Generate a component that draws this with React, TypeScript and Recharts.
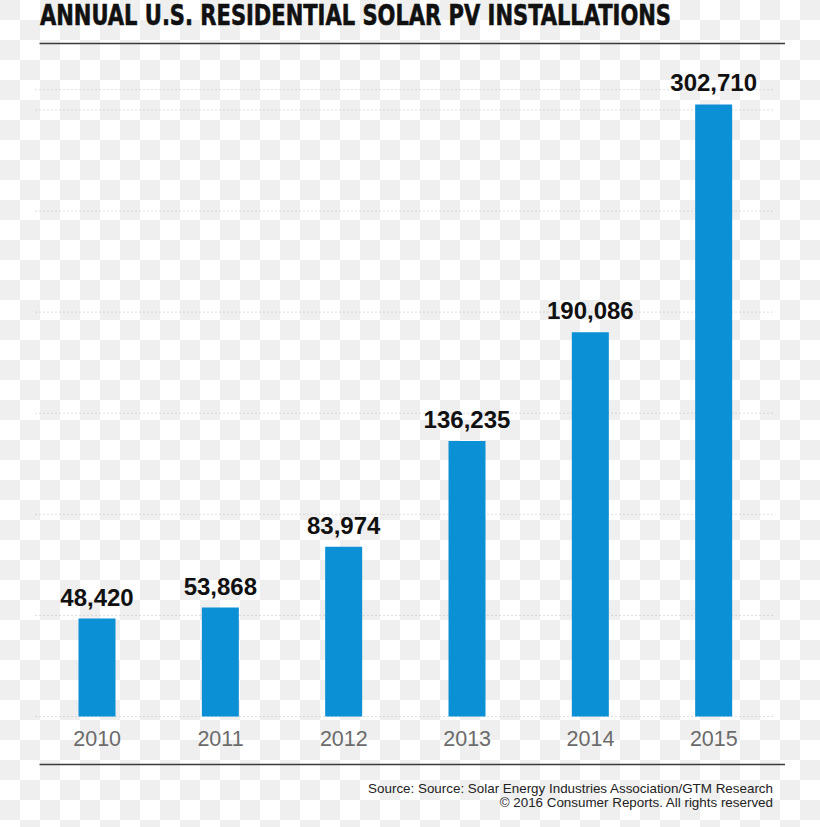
import React from "react";
import { BarChart, Bar, XAxis, YAxis, CartesianGrid, LabelList } from "recharts";

const years = ["2010", "2011", "2012", "2013", "2014", "2015"];
const installations = [48420, 53868, 83974, 136235, 190086, 302710];
const yTicks = [0, 50000, 100000, 150000, 200000, 250000, 300000];
const titleText = "ANNUAL U.S. RESIDENTIAL SOLAR PV INSTALLATIONS";
const sourceLines = [
  "Source: Source: Solar Energy Industries Association/GTM Research",
  "\u00A9 2016 Consumer Reports. All rights reserved",
];

const data = years.map((y, i) => ({ year: y, value: installations[i] }));

const fmt = (v: any) => Number(v).toLocaleString("en-US");

export default function App() {
  return (
    <div
      style={{
        position: "absolute",
        left: 0,
        top: 0,
        width: 820,
        height: 827,
        overflow: "hidden",
        backgroundColor: "#ffffff",
        backgroundImage: "repeating-conic-gradient(#ffffff 0 25%, #efefef 0 50%)",
        backgroundSize: "40px 40px",
      }}
    >
      <svg
        width={820}
        height={827}
        style={{ position: "absolute", left: 0, top: 0 }}
      >
        <text
          x={40}
          y={25}
          textLength={631}
          lengthAdjust="spacingAndGlyphs"
          stroke="#111"
          strokeWidth={0.6}
          style={{
            fontFamily: "'Liberation Sans Narrow', 'DejaVu Sans Condensed', Arial, sans-serif",
            fontWeight: 700,
            fontSize: 28.5,
            fill: "#111",
          }}
        >
          {titleText}
        </text>
        <line x1={39.5} x2={785} y1={43.5} y2={43.5} stroke="#3a3a3a" strokeWidth={1.5} />
        <line x1={39.5} x2={785} y1={764.5} y2={764.5} stroke="#3a3a3a" strokeWidth={1.5} />
        {sourceLines.map((s, i) => (
          <text
            key={i}
            x={773}
            y={792.7 + i * 14}
            textAnchor="end"
            style={{
              fontFamily: "'Liberation Sans', Arial, sans-serif",
              fontSize: 13.4,
              fill: "#222",
            }}
          >
            {s}
          </text>
        ))}
      </svg>
      <div style={{ position: "absolute", left: 0, top: 0 }}>
        <BarChart
          width={820}
          height={827}
          data={data}
          margin={{ top: 89.7, right: 44.5, bottom: 70.5, left: 35.5 }}
        >
          <CartesianGrid
            vertical={false}
            stroke="#bdbdbd"
            strokeDasharray="1 3"
          />
          <XAxis
            dataKey="year"
            height={40}
            axisLine={false}
            tickLine={false}
            tickSize={0}
            tickMargin={14}
            tick={{
              fontFamily: "'Liberation Sans', Arial, sans-serif",
              fontSize: 21.5,
              fill: "#6b6b6b",
            }}
          />
          <YAxis hide domain={[0, 310000]} ticks={yTicks} />
          <Bar dataKey="value" fill="#0b8fd5" barSize={37} isAnimationActive={false}>
            <LabelList
              dataKey="value"
              position="top"
              offset={13}
              formatter={fmt}
              style={{
                fontFamily: "'Liberation Sans', Arial, sans-serif",
                fontSize: 24,
                fontWeight: 700,
                fill: "#111",
              }}
            />
          </Bar>
        </BarChart>
      </div>
    </div>
  );
}
